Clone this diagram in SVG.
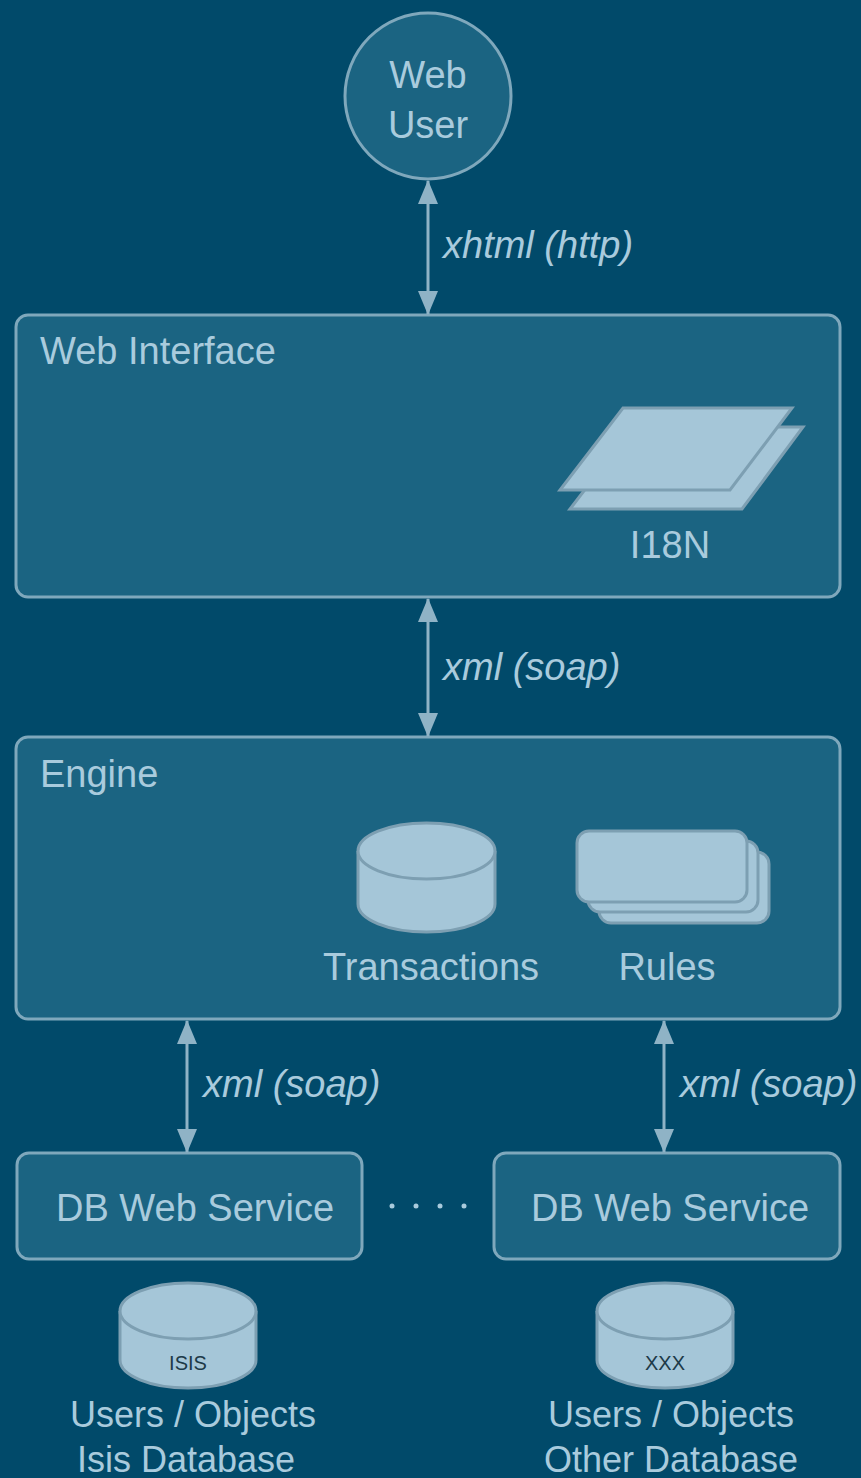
<svg xmlns="http://www.w3.org/2000/svg" width="861" height="1478" viewBox="0 0 861 1478">
<defs>
<style>
.t{font-family:"Liberation Sans",Arial,sans-serif;fill:#a9cbdd;font-size:38px}
.lab{font-family:"Liberation Sans",Arial,sans-serif;fill:#a9cbdd;font-size:38px;font-style:italic}
.box{fill:#1b6482;stroke:#7fa8bc;stroke-width:3}
.ico{fill:#a5c6d8;stroke:#7d9fb2;stroke-width:3}
.conn{stroke:#8fb3c6;stroke-width:3;fill:none}
.small{font-family:"Liberation Sans",Arial,sans-serif;fill:#1d3a48;font-size:20px}
</style>
<marker id="ah" viewBox="0 0 24 20" refX="23" refY="10" markerWidth="24" markerHeight="20" markerUnits="userSpaceOnUse" orient="auto-start-reverse">
<path d="M0,0 L24,10 L0,20 Z" fill="#8fb3c6"/>
</marker>
</defs>
<rect x="0" y="0" width="861" height="1478" fill="#014a6a"/>

<g id="web-user">
<circle cx="428" cy="96" r="83" class="box"/>
<text class="t" x="428" y="88" text-anchor="middle">Web</text>
<text class="t" x="428" y="138" text-anchor="middle">User</text>
</g>

<g id="web-interface">
<rect x="16" y="315" width="824" height="282" rx="12" class="box"/>
<text class="t" x="40" y="364">Web Interface</text>
<g id="i18n">
<polygon points="633,427 803,427 742,509 570,509" class="ico"/>
<polygon points="623,408 792,408 730,490 560,490" class="ico"/>
<text class="t" x="670" y="558" text-anchor="middle">I18N</text>
</g>
</g>

<g id="engine">
<rect x="16" y="737" width="824" height="282" rx="12" class="box"/>
<text class="t" x="40" y="787">Engine</text>
<g id="transactions">
<path d="M358,851 L358,904 A68.5,28 0 0 0 495,904 L495,851" class="ico"/>
<ellipse cx="426.5" cy="851" rx="68.5" ry="28" class="ico"/>
<text class="t" x="431" y="980" text-anchor="middle">Transactions</text>
</g>
<g id="rules">
<rect x="599" y="852" width="170" height="71" rx="12" class="ico"/>
<rect x="588" y="841" width="170" height="71" rx="12" class="ico"/>
<rect x="577" y="831" width="170" height="71" rx="12" class="ico"/>
<text class="t" x="667" y="980" text-anchor="middle">Rules</text>
</g>
</g>

<g id="db-service-1">
<rect x="17" y="1153" width="345" height="106" rx="12" class="box"/>
<text class="t" x="195" y="1221" text-anchor="middle">DB Web Service</text>
</g>

<g id="db-service-2">
<rect x="494" y="1153" width="346" height="106" rx="12" class="box"/>
<text class="t" x="670" y="1221" text-anchor="middle">DB Web Service</text>
</g>

<g id="dots" fill="#a9cbdd">
<circle cx="392" cy="1206" r="2.5"/>
<circle cx="416" cy="1206" r="2.5"/>
<circle cx="440" cy="1206" r="2.5"/>
<circle cx="464" cy="1206" r="2.5"/>
</g>

<g id="isis-db">
<path d="M120,1311 L120,1360 A68,28 0 0 0 256,1360 L256,1311" class="ico"/>
<ellipse cx="188" cy="1311" rx="68" ry="28" class="ico"/>
<text class="small" x="188" y="1370" text-anchor="middle">ISIS</text>
<text class="t" x="193" y="1427" text-anchor="middle" style="font-size:36px">Users / Objects</text>
<text class="t" x="186" y="1472" text-anchor="middle" style="font-size:36px">Isis Database</text>
</g>

<g id="other-db">
<path d="M597,1311 L597,1360 A68,28 0 0 0 733,1360 L733,1311" class="ico"/>
<ellipse cx="665" cy="1311" rx="68" ry="28" class="ico"/>
<text class="small" x="665" y="1370" text-anchor="middle">XXX</text>
<text class="t" x="671" y="1427" text-anchor="middle" style="font-size:36px">Users / Objects</text>
<text class="t" x="671" y="1472" text-anchor="middle" style="font-size:36px">Other Database</text>
</g>

<g id="connectors">
<line x1="428" y1="181" x2="428" y2="314" class="conn" marker-start="url(#ah)" marker-end="url(#ah)"/>
<text class="lab" x="443" y="258">xhtml (http)</text>
<line x1="428" y1="599" x2="428" y2="736" class="conn" marker-start="url(#ah)" marker-end="url(#ah)"/>
<text class="lab" x="443" y="680">xml (soap)</text>
<line x1="187" y1="1021" x2="187" y2="1152" class="conn" marker-start="url(#ah)" marker-end="url(#ah)"/>
<text class="lab" x="203" y="1097">xml (soap)</text>
<line x1="664" y1="1021" x2="664" y2="1152" class="conn" marker-start="url(#ah)" marker-end="url(#ah)"/>
<text class="lab" x="680" y="1097">xml (soap)</text>
</g>
</svg>
